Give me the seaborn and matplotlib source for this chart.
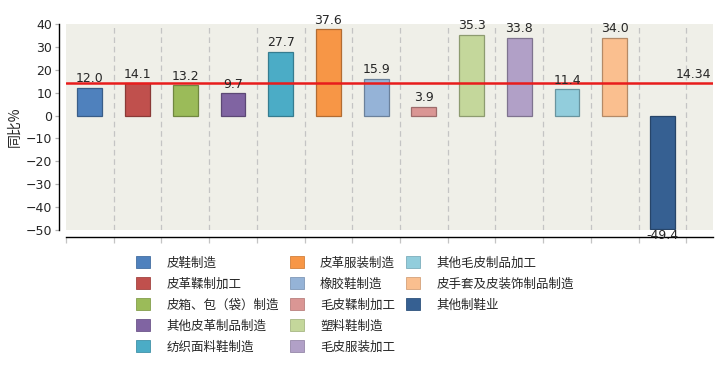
import numpy as np
import matplotlib
matplotlib.use("Agg")
import matplotlib.pyplot as plt
import matplotlib.colors as mcolors
from matplotlib.patches import Patch
import seaborn as sns

# data
categories = ['皮鞋制造', '皮革鞣制加工', '皮箱、包（袋）制造', '其他皮革制品制造',
              '纺织面料鞋制造', '皮革服装制造', '橡胶鞋制造', '毛皮鞣制加工',
              '塑料鞋制造', '毛皮服装加工', '其他毛皮制品加工',
              '皮手套及皮装饰制品制造', '其他制鞋业']
values = [12.0, 14.1, 13.2, 9.7, 27.7, 37.6, 15.9, 3.9, 35.3, 33.8, 11.4, 34.0, -49.4]
average = 14.34
colors = ['#4f81bd', '#c0504d', '#9bbb59', '#8064a2', '#4bacc6', '#f79646',
          '#95b3d7', '#da9694', '#c4d79b', '#b1a0c7', '#92cddc', '#fabf8f',
          '#366092']
y_ticks = [40, 30, 20, 10, 0, -10, -20, -30, -40, -50]


def darker(c, f=0.72):
    r, g, b = mcolors.to_rgb(c)
    return (r * f, g * f, b * f)


sns.set_style('white')
plt.rcParams['font.family'] = ['DejaVu Sans', 'Noto Sans CJK SC']
plt.rcParams['axes.unicode_minus'] = True

fig = plt.figure(figsize=(7.2, 3.65), dpi=100)
ax = fig.add_axes([66 / 720, 1 - 230 / 365, 647 / 720, 206 / 365])
ax.set_facecolor('#efefe8')

sns.barplot(x=categories, y=values, hue=categories, palette=colors,
            order=categories, hue_order=categories, width=0.52,
            legend=False, ax=ax, saturation=1)

for bar in ax.patches:
    bar.set_edgecolor(darker(bar.get_facecolor()))
    bar.set_linewidth(0.9)

for cont in ax.containers:
    neg = cont.datavalues[0] < 0
    labels = ax.bar_label(cont, fmt='%.1f', padding=0 if neg else 2,
                          fontsize=9, family=['DejaVu Sans'])
    for t in labels:
        t.set_zorder(5)

n = len(categories)
ax.set_xlim(-0.5, n + 0.06)
ax.set_ylim(-50, 40)

# dashed separators between categories
ax.vlines(np.arange(n) + 0.5, -50, 40, colors='#c4c4c4', linewidth=0.9,
          linestyles=(0, (4.5, 3)), zorder=0)

# average line
ax.axhline(average, color='#e81c1c', linewidth=1.8, zorder=3)
ax.text(0.997, average + 0.6, f'{average:.2f}',
        transform=ax.get_yaxis_transform(), ha='right', va='bottom',
        fontsize=9)

ax.set_xticks(np.arange(-0.5, n, 1.0))
ax.set_xticklabels([])
ax.set_yticks(y_ticks)
ax.tick_params(axis='x', length=4.5, width=0.9, color='#c4c4c4', direction='out',
               bottom=True)
ax.tick_params(axis='y', length=3, width=0.9, color='#b0b0b0', direction='out',
               left=True, labelsize=9, pad=2)

for s in ['top', 'right']:
    ax.spines[s].set_visible(False)
for s in ['left', 'bottom']:
    ax.spines[s].set_visible(True)
    ax.spines[s].set_color('black')
    ax.spines[s].set_linewidth(1.0)
    ax.spines[s].set_position(('outward', 5))

ax.set_xlabel('')
ax.set_ylabel('同比%', fontsize=10, labelpad=3, family=['Noto Sans CJK SC'])

# legend: 5 + 5 + 3 entries, column-wise; two blank slots pad the last column
handles = [Patch(facecolor=c, edgecolor=darker(c, 0.85), linewidth=0.6)
           for c in colors]
labels = list(categories)
for _ in range(2):
    handles.append(Patch(facecolor='none', edgecolor='none'))
    labels.append('')
fig.legend(handles, labels, ncol=3, loc='upper center',
           bbox_to_anchor=(0.493, 1 - 250 / 365), frameon=False,
           prop={'family': 'Noto Sans CJK SC', 'size': 9},
           handlelength=1.1, handleheight=1.1, handletextpad=1.3,
           columnspacing=0.9, labelspacing=0.62, borderpad=0)

fig.savefig('out.png', dpi=100)
